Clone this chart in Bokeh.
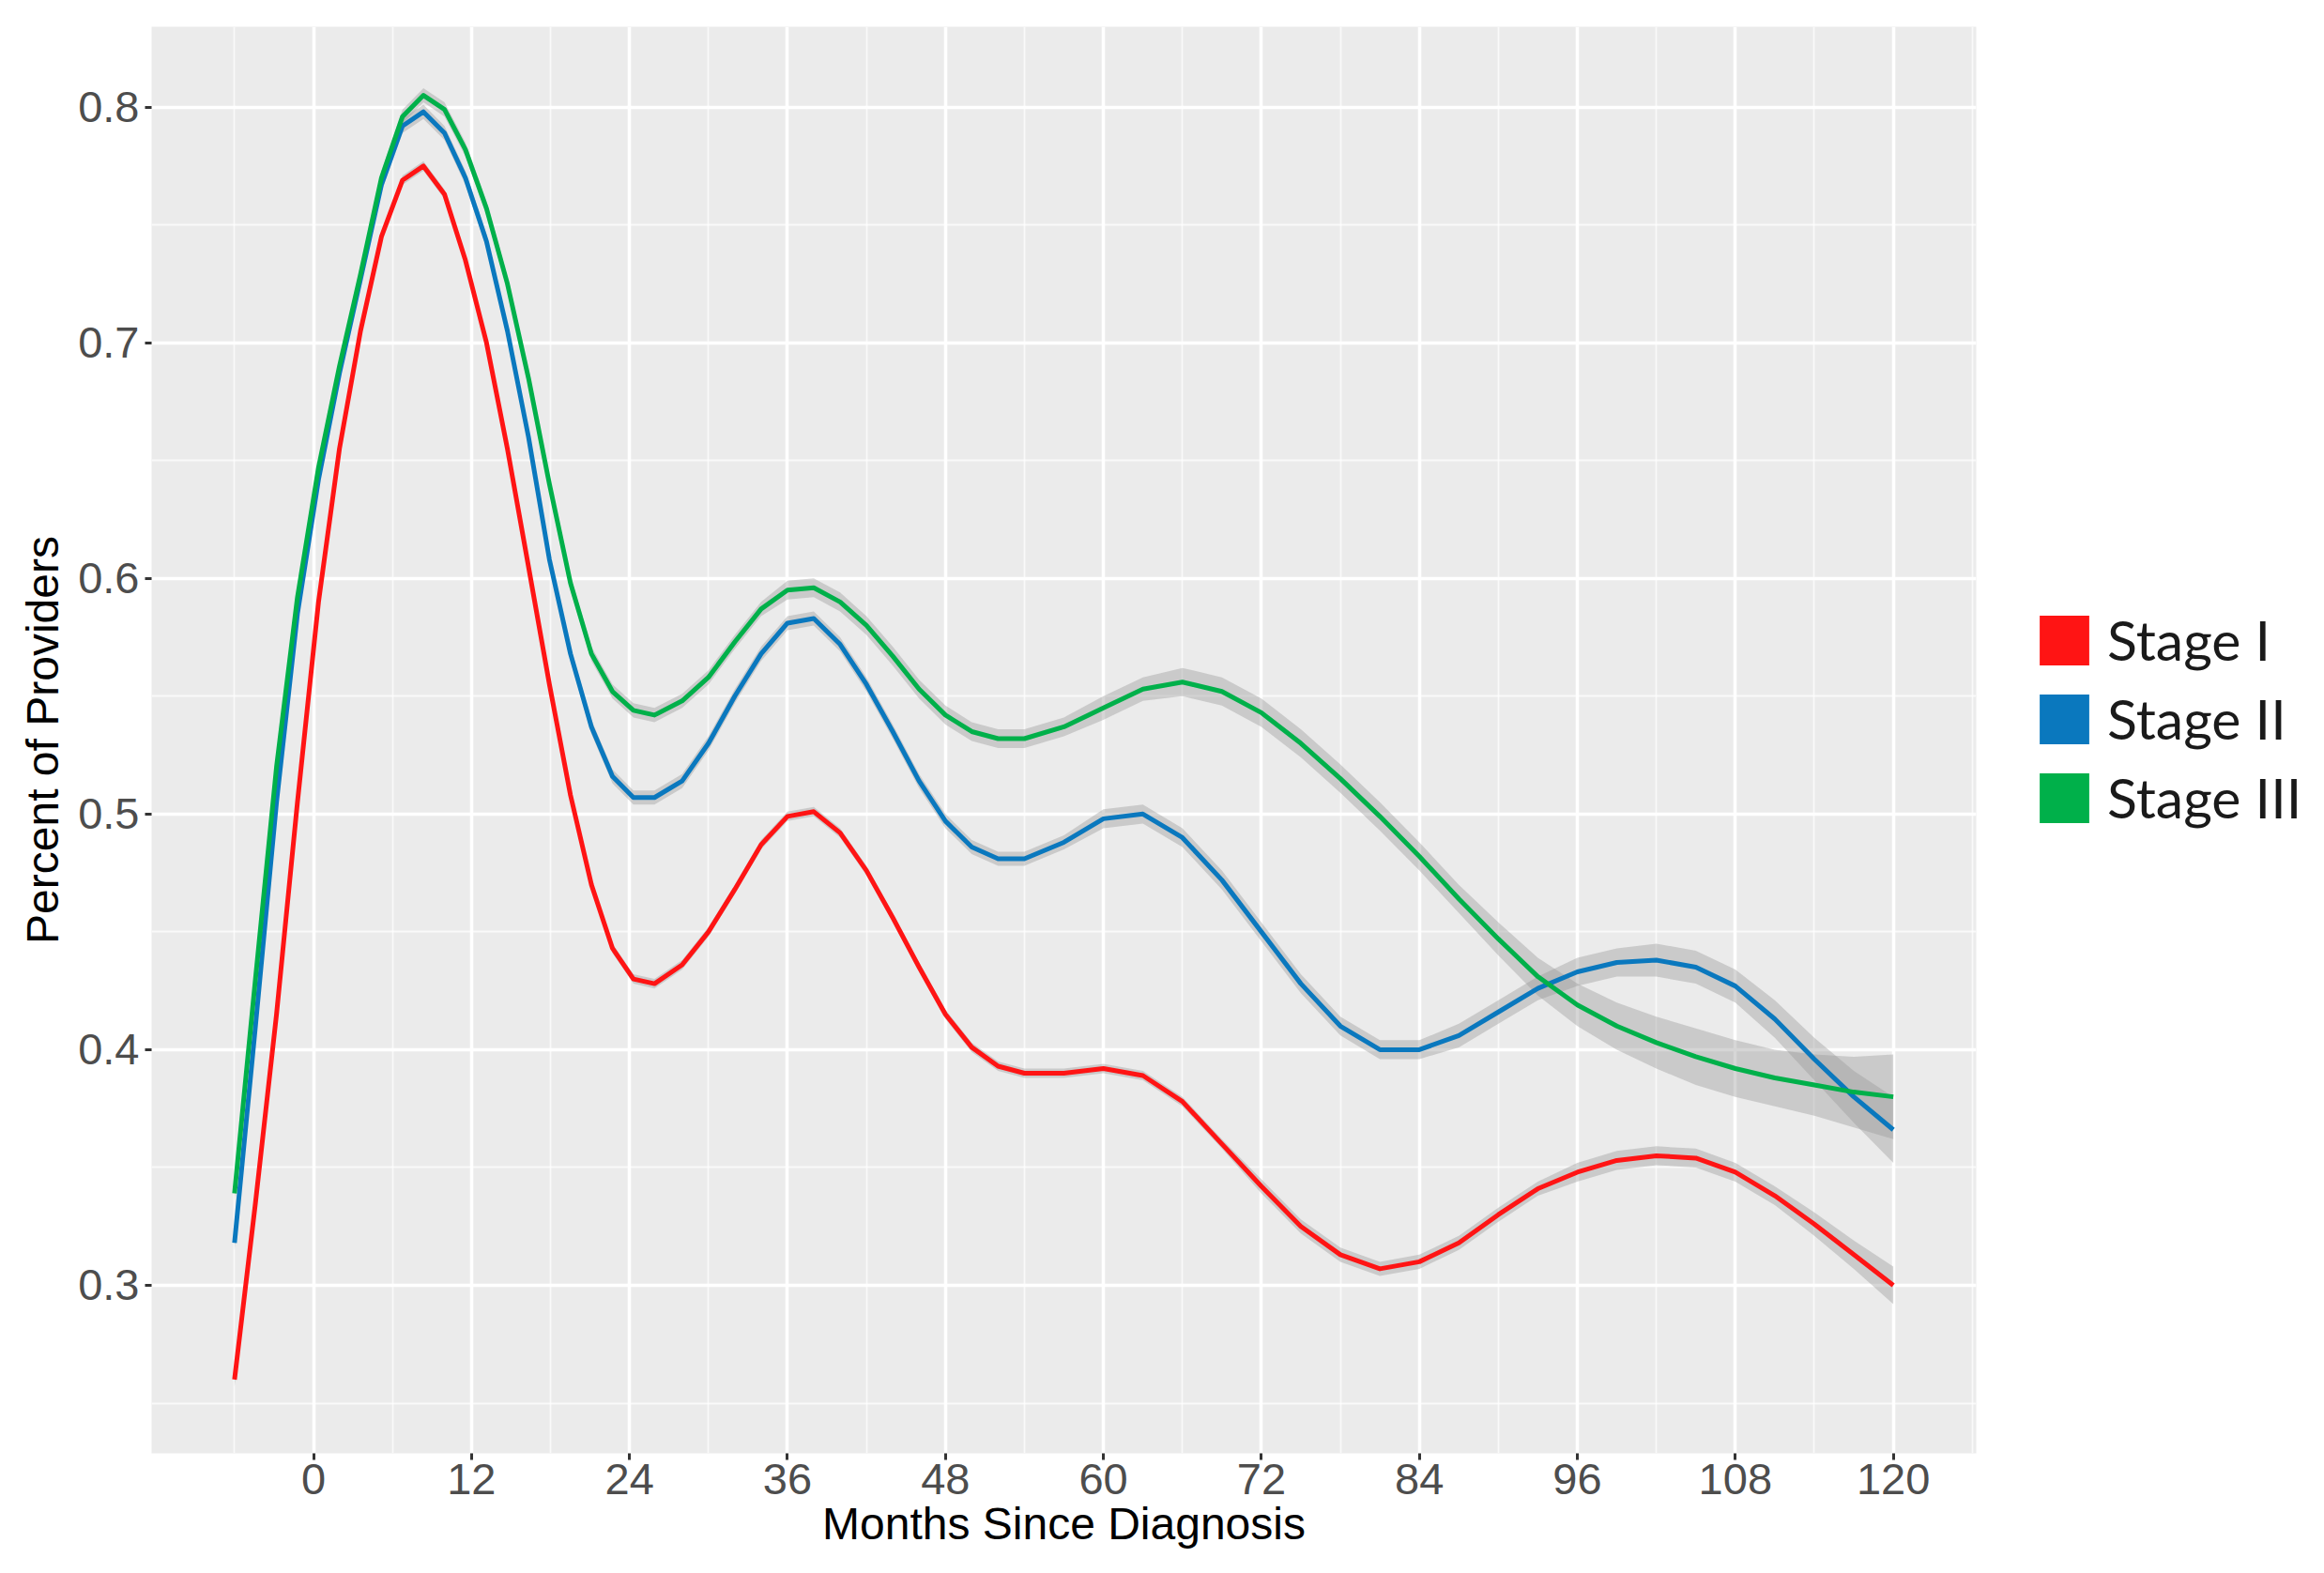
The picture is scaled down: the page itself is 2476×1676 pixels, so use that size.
from bokeh.plotting import figure
from bokeh.models import FixedTicker, Legend, LegendItem, ColumnDataSource
from bokeh.embed import file_html
from bokeh.resources import INLINE

# ---------------- data ----------------
months = [-6.0, -4.41, -2.81, -1.22, 0.38, 1.97, 3.57, 5.16, 6.76, 8.35, 9.95, 11.54,
          13.14, 14.73, 16.33, 17.92, 19.52, 21.11, 22.71, 24.30, 25.90,
          28, 30, 32, 34, 36, 38, 40, 42, 44, 46, 48, 50, 52, 54, 57, 60, 63, 66, 69,
          72, 75, 78, 81, 84, 87, 90, 93, 96, 99, 102, 105, 108, 111, 114, 117, 120]

stage1 = [0.260, 0.335, 0.415, 0.505, 0.590, 0.655, 0.705, 0.745, 0.769, 0.775, 0.763, 0.735,
          0.700, 0.655, 0.605, 0.555, 0.508, 0.470, 0.443, 0.430, 0.428,
          0.436, 0.450, 0.468, 0.487, 0.499, 0.501, 0.492, 0.476, 0.456, 0.435,
          0.415, 0.401, 0.393, 0.390, 0.390, 0.392, 0.389, 0.378, 0.360, 0.342,
          0.325, 0.313, 0.307, 0.310, 0.318, 0.330, 0.341, 0.348, 0.353, 0.355,
          0.354, 0.348, 0.338, 0.326, 0.313, 0.300]
stage2 = [0.318, 0.410, 0.505, 0.585, 0.642, 0.687, 0.727, 0.767, 0.792, 0.798, 0.789, 0.770,
          0.743, 0.705, 0.660, 0.608, 0.568, 0.537, 0.516, 0.507, 0.507,
          0.514, 0.530, 0.550, 0.568, 0.581, 0.583, 0.572, 0.555, 0.535, 0.514,
          0.497, 0.486, 0.481, 0.481, 0.488, 0.498, 0.500, 0.490, 0.472, 0.450,
          0.428, 0.410, 0.400, 0.400, 0.406, 0.416, 0.426, 0.433, 0.437, 0.438,
          0.435, 0.427, 0.413, 0.396, 0.380, 0.366]
stage3 = [0.339, 0.430, 0.520, 0.592, 0.647, 0.690, 0.729, 0.770, 0.796, 0.805, 0.799, 0.782,
          0.757, 0.725, 0.685, 0.640, 0.598, 0.568, 0.552, 0.544, 0.542,
          0.548, 0.558, 0.573, 0.587, 0.595, 0.596, 0.590, 0.580, 0.567, 0.553,
          0.542, 0.535, 0.532, 0.532, 0.537, 0.545, 0.553, 0.556, 0.552, 0.543,
          0.530, 0.515, 0.499, 0.482, 0.464, 0.447, 0.431, 0.419, 0.410, 0.403,
          0.397, 0.392, 0.388, 0.385, 0.382, 0.380]

# half-width of the confidence band
stage1_se = [0.003, 0.003, 0.002, 0.002, 0.002, 0.002, 0.002, 0.002, 0.002, 0.002, 0.002, 0.002,
             0.002, 0.002, 0.002, 0.002, 0.002, 0.002, 0.002, 0.002, 0.002,
             0.002, 0.002, 0.002, 0.002, 0.002, 0.002, 0.002, 0.002, 0.002, 0.002,
             0.002, 0.002, 0.002, 0.002, 0.002, 0.002, 0.002, 0.002, 0.002, 0.003,
             0.003, 0.003, 0.003, 0.003, 0.003, 0.003, 0.003, 0.004, 0.004, 0.004,
             0.004, 0.004, 0.004, 0.005, 0.006, 0.008]
stage2_se = [0.003, 0.003, 0.003, 0.003, 0.003, 0.003, 0.003, 0.003, 0.003, 0.003, 0.003, 0.003,
             0.003, 0.003, 0.003, 0.003, 0.003, 0.003, 0.003, 0.003, 0.003,
             0.003, 0.003, 0.003, 0.003, 0.003, 0.003, 0.003, 0.003, 0.003, 0.003,
             0.003, 0.003, 0.003, 0.003, 0.003, 0.004, 0.004, 0.004, 0.004, 0.004,
             0.004, 0.004, 0.004, 0.004, 0.005, 0.005, 0.005, 0.006, 0.006, 0.007,
             0.007, 0.007, 0.008, 0.009, 0.011, 0.014]
stage3_se = [0.003, 0.003, 0.003, 0.003, 0.003, 0.003, 0.003, 0.003, 0.003, 0.003, 0.003, 0.003,
             0.003, 0.003, 0.003, 0.003, 0.003, 0.003, 0.003, 0.003, 0.003,
             0.003, 0.003, 0.003, 0.003, 0.004, 0.004, 0.004, 0.004, 0.004, 0.004,
             0.004, 0.004, 0.004, 0.004, 0.004, 0.005, 0.005, 0.006, 0.006, 0.006,
             0.006, 0.006, 0.006, 0.006, 0.006, 0.007, 0.008, 0.009, 0.010, 0.011,
             0.012, 0.012, 0.012, 0.013, 0.015, 0.018]

stage_labels = ["Stage I", "Stage II", "Stage III"]
stage_colors = ["#FF1414", "#0A78BE", "#00B04A"]

x_ticks = [0, 12, 24, 36, 48, 60, 72, 84, 96, 108, 120]
x_minor = [-6, 6, 18, 30, 42, 54, 66, 78, 90, 102, 114, 126]
y_ticks = [0.3, 0.4, 0.5, 0.6, 0.7, 0.8]
y_minor = [0.25, 0.35, 0.45, 0.55, 0.65, 0.75]

# ---------------- figure ----------------
p = figure(frame_width=1944, frame_height=1520, output_backend="svg", toolbar_location=None,
           x_range=(-12.3, 126.3), y_range=(0.2287, 0.8341),
           min_border_left=161, min_border_top=28, min_border_right=0,
           min_border_bottom=0)
p.background_fill_color = "#EBEBEB"
p.border_fill_color = "white"
p.outline_line_color = None

p.xaxis.ticker = FixedTicker(ticks=x_ticks, minor_ticks=x_minor)
p.yaxis.ticker = FixedTicker(ticks=y_ticks, minor_ticks=y_minor)

for g in (p.xgrid, p.ygrid):
    g.grid_line_color = "white"
    g.grid_line_width = 3.5
    g.minor_grid_line_color = "white"
    g.minor_grid_line_width = 1.8
    g.minor_grid_line_alpha = 0.7

for ax in (p.xaxis, p.yaxis):
    ax.axis_line_color = None
    ax.major_tick_line_color = "#333333"
    ax.major_tick_line_width = 3
    ax.major_tick_in = 0
    ax.major_tick_out = 7
    ax.minor_tick_line_color = None
    ax.major_label_text_font = "Liberation Sans"
    ax.major_label_text_font_size = "47px"
    ax.major_label_text_color = "#4D4D4D"
    ax.axis_label_text_font = "Liberation Sans"
    ax.axis_label_text_font_size = "48px"
    ax.axis_label_text_font_style = "normal"
    ax.axis_label_text_color = "black"

p.xaxis.axis_label = "Months Since Diagnosis"
p.yaxis.axis_label = "Percent of Providers"
p.xaxis.major_label_standoff = 4
p.xaxis.axis_label_standoff = 2
p.yaxis.major_label_standoff = 6
p.yaxis.axis_label_standoff = 8

series = [stage1, stage2, stage3]
ses = [stage1_se, stage2_se, stage3_se]

for vals, se in zip(series, ses):
    src = ColumnDataSource(dict(x=months,
                                lo=[v - s for v, s in zip(vals, se)],
                                hi=[v + s for v, s in zip(vals, se)]))
    p.varea(x="x", y1="lo", y2="hi", source=src, fill_color="#999999", fill_alpha=0.4)

for vals, col in zip(series, stage_colors):
    p.line(months, vals, line_color=col, line_width=5, line_join="round")

nan = float("nan")
items = []
for lab, col in zip(stage_labels, stage_colors):
    q = p.quad(left=[nan], right=[nan], top=[nan], bottom=[nan], fill_color=col, line_color=None)
    items.append(LegendItem(label=lab, renderers=[q]))

legend = Legend(items=items, location=(61, 663), margin=0, padding=0,
                border_line_color=None, background_fill_alpha=0,
                glyph_width=66, glyph_height=66, spacing=13, label_standoff=13,
                label_text_font="Lato", label_text_font_size="59px",
                label_text_color="#1A1A1A", label_text_baseline="middle")
p.add_layout(legend, "right")

open("out.html", "w").write(file_html(p, INLINE))
